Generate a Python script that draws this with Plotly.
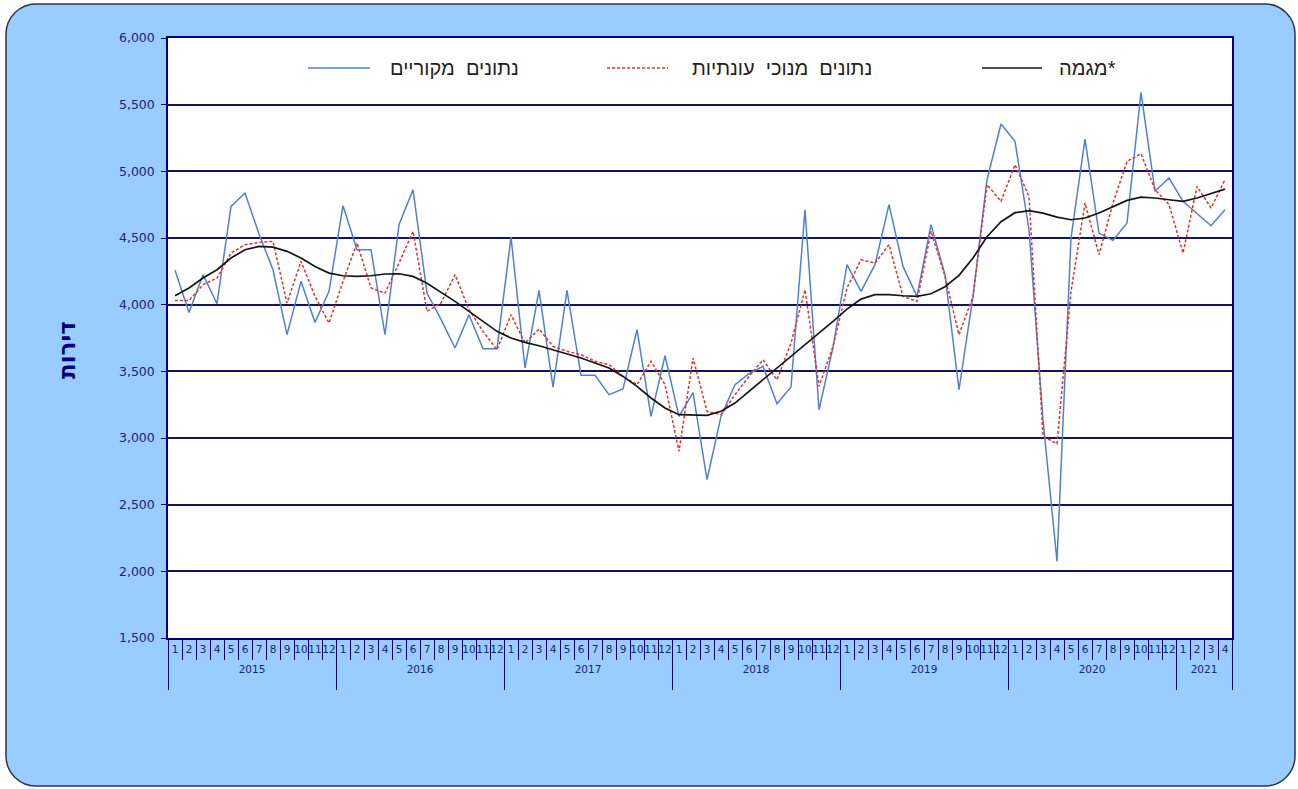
import plotly.graph_objects as go
import pandas as pd

# Monthly periods shown on the x axis
periods = pd.period_range("2015-01", "2021-04", freq="M")
month_labels = [str(p.month) for p in periods]
years = sorted({p.year for p in periods})

# Series (dwellings per month)
original = [
    4258, 3942, 4225, 4007, 4737, 4837, 4530, 4262, 3775, 4175, 3867, 4100,
    4742, 4412, 4412, 3775, 4600, 4862, 4087, 3890, 3675, 3925, 3670, 3670,
    4507, 3525, 4107, 3382, 4107, 3470, 3470, 3325, 3367, 3812, 3162, 3617,
    3162, 3340, 2687, 3162, 3400, 3482, 3537, 3257, 3382, 4712, 3212, 3680,
    4300, 4100, 4300, 4750, 4287, 4062, 4600, 4225, 3362, 4062, 4937, 5355,
    5225, 4562, 3137, 2075, 4500, 5242, 4537, 4482, 4612, 5592, 4850, 4950,
    4775, 4687, 4592, 4712,
]
seasonally_adjusted = [
    4032, 4032, 4150, 4200, 4387, 4450, 4467, 4475, 4012, 4325, 4062, 3862,
    4175, 4462, 4125, 4087, 4312, 4550, 3950, 4012, 4225, 3962, 3800, 3662,
    3925, 3712, 3817, 3687, 3650, 3625, 3575, 3550, 3462, 3400, 3575, 3400,
    2900, 3600, 3200, 3175, 3325, 3462, 3587, 3437, 3712, 4112, 3387, 3687,
    4125, 4337, 4312, 4450, 4062, 4025, 4550, 4212, 3775, 4062, 4900, 4775,
    5050, 4812, 3012, 2957, 4100, 4762, 4375, 4762, 5075, 5132, 4862, 4750,
    4387, 4887, 4725, 4937,
]
trend = [
    4067, 4125, 4200, 4262, 4350, 4412, 4437, 4432, 4400, 4350, 4287, 4237,
    4217, 4212, 4217, 4230, 4232, 4212, 4160, 4092, 4025, 3950, 3875, 3800,
    3750, 3717, 3692, 3662, 3630, 3600, 3562, 3525, 3462, 3387, 3300, 3225,
    3175, 3170, 3170, 3200, 3262, 3350, 3437, 3525, 3612, 3700, 3787, 3875,
    3967, 4042, 4075, 4075, 4067, 4062, 4082, 4135, 4220, 4350, 4510, 4622,
    4690, 4705, 4687, 4657, 4637, 4650, 4687, 4737, 4782, 4807, 4800, 4787,
    4775, 4800, 4832, 4867,
]

y_ticks = list(range(1500, 6001, 500))

legend_names = ["נתונים מקוריים", "נתונים מנוכי עונתיות", "מגמה*"]
y_title = "דירות"

NAVY = "#000080"
GRID = "#14145a"
BLUE = "#4f80d6"
RED = "#e3342c"
BLACK = "#151515"
PANEL = "#99ccff"
LABEL = "#1a237e"

W, H = 1298, 789
L, R, T, B = 168, 66, 38, 151
PW, PH = W - L - R, H - T - B


def px(xp):
    return (xp - L) / PW


def py(yp):
    return (T + PH - yp) / PH


n = len(periods)
x = list(range(n))
month_bounds = [i - 0.5 for i in range(n + 1)]
year_bounds = [i - 0.5 for i, p in enumerate(periods) if p.month == 1] + [n - 0.5]
year_centers = [
    sum(i for i, p in enumerate(periods) if p.year == yr)
    / sum(1 for p in periods if p.year == yr)
    for yr in years
]
xrange = [-0.5, n - 0.5]

fig = go.Figure()
# Three overlaid x axes share one range: boundary ticks, month labels, year labels
fig.add_trace(go.Scatter(x=x, y=original, mode="lines", name=legend_names[0],
                         xaxis="x", line=dict(color=BLUE, width=1.5)))
fig.add_trace(go.Scatter(x=x, y=seasonally_adjusted, mode="lines", name=legend_names[1],
                         xaxis="x2", line=dict(color=RED, width=1.5, dash="3px,2px")))
fig.add_trace(go.Scatter(x=x, y=trend, mode="lines", name=legend_names[2],
                         xaxis="x3", line=dict(color=BLACK, width=1.7)))

# Rounded panel behind the chart
x0, x1, y0, y1, r = 6, 1295, 4, 786, 30
k = 0.45
panel_path = (
    f"M {px(x0 + r)} {py(y0)} L {px(x1 - r)} {py(y0)} "
    f"C {px(x1 - r * k)} {py(y0)} {px(x1)} {py(y0 + r * k)} {px(x1)} {py(y0 + r)} "
    f"L {px(x1)} {py(y1 - r)} "
    f"C {px(x1)} {py(y1 - r * k)} {px(x1 - r * k)} {py(y1)} {px(x1 - r)} {py(y1)} "
    f"L {px(x0 + r)} {py(y1)} "
    f"C {px(x0 + r * k)} {py(y1)} {px(x0)} {py(y1 - r * k)} {px(x0)} {py(y1 - r)} "
    f"L {px(x0)} {py(y0 + r)} "
    f"C {px(x0)} {py(y0 + r * k)} {px(x0 + r * k)} {py(y0)} {px(x0 + r)} {py(y0)} Z"
)
shapes = [
    dict(type="path", xref="paper", yref="paper", path=panel_path,
         fillcolor=PANEL, line=dict(color="#2a3550", width=1.5), layer="below"),
    # white plotting area on top of the panel
    dict(type="rect", xref="paper", yref="paper", x0=0, x1=1, y0=0, y1=1,
         fillcolor="white", line=dict(width=0), layer="below"),
]

# Legend row drawn across the top of the plot area
legend_items = [
    (308, 370, 388, legend_names[0], dict(color=BLUE, width=1.5)),
    (607, 668, 690, legend_names[1], dict(color=RED, width=1.3, dash="3px,2px")),
    (982, 1042, 1057, legend_names[2], dict(color=BLACK, width=1.5)),
]
annotations = []
for lx0, lx1, tx, label, style in legend_items:
    shapes.append(dict(type="line", xref="paper", yref="paper",
                       x0=px(lx0), x1=px(lx1), y0=py(68), y1=py(68), line=style))
    annotations.append(dict(xref="paper", yref="paper", x=px(tx), y=py(68),
                            xanchor="left", yanchor="middle", showarrow=False,
                            text=label.replace(" ", "\u00a0\u00a0"),
                            font=dict(family="Liberation Sans, Arial, sans-serif",
                                      size=20, color="#222222")))

annotations.append(dict(xref="paper", yref="paper", x=px(67), y=py(350),
                        xanchor="center", yanchor="middle", showarrow=False,
                        text=f"<b>{y_title}</b>", textangle=-90,
                        font=dict(family="DejaVu Sans, Arial, sans-serif",
                                  size=23, color=NAVY)))

tick_font = dict(family="DejaVu Sans, Verdana, sans-serif", size=10.5, color=LABEL)

fig.update_layout(
    width=W, height=H, autosize=False,
    margin=dict(l=L, r=R, t=T, b=B, pad=0),
    paper_bgcolor="white",
    plot_bgcolor="rgba(0,0,0,0)",
    showlegend=False,
    shapes=shapes,
    annotations=annotations,
    xaxis=dict(
        range=xrange, showgrid=False, zeroline=False,
        showline=True, linecolor=NAVY, linewidth=1.5, mirror=True,
        tickmode="array", tickvals=year_bounds, ticks="outside",
        ticklen=50, tickwidth=1.3, tickcolor=NAVY, showticklabels=False,
        minor=dict(tickmode="array", tickvals=month_bounds, ticks="outside",
                   ticklen=20, tickwidth=1, tickcolor=NAVY, showgrid=False),
    ),
    xaxis2=dict(
        overlaying="x", anchor="y", side="bottom", range=xrange,
        showgrid=False, zeroline=False, showline=False,
        tickmode="array", tickvals=x, ticktext=month_labels,
        ticks="outside", ticklen=1, tickcolor="rgba(0,0,0,0)",
        tickangle=0, tickfont=tick_font,
    ),
    xaxis3=dict(
        overlaying="x", anchor="y", side="bottom", range=xrange,
        showgrid=False, zeroline=False, showline=False,
        tickmode="array", tickvals=year_centers, ticktext=[str(yv) for yv in years],
        ticks="outside", ticklen=21, tickcolor="rgba(0,0,0,0)",
        tickangle=0, tickfont=tick_font,
    ),
    yaxis=dict(
        range=[y_ticks[0], y_ticks[-1]], tickmode="array", tickvals=y_ticks,
        tickformat=",", showgrid=True, gridcolor=GRID, gridwidth=1.5,
        zeroline=False, showline=True, linecolor=NAVY, linewidth=1.5, mirror=True,
        ticks="outside", ticklen=5, tickwidth=1, tickcolor=NAVY,
        ticklabelstandoff=4,
        tickfont=dict(family="DejaVu Sans, Verdana, sans-serif", size=12.5, color=LABEL),
    ),
)

fig.write_html("out.html")
